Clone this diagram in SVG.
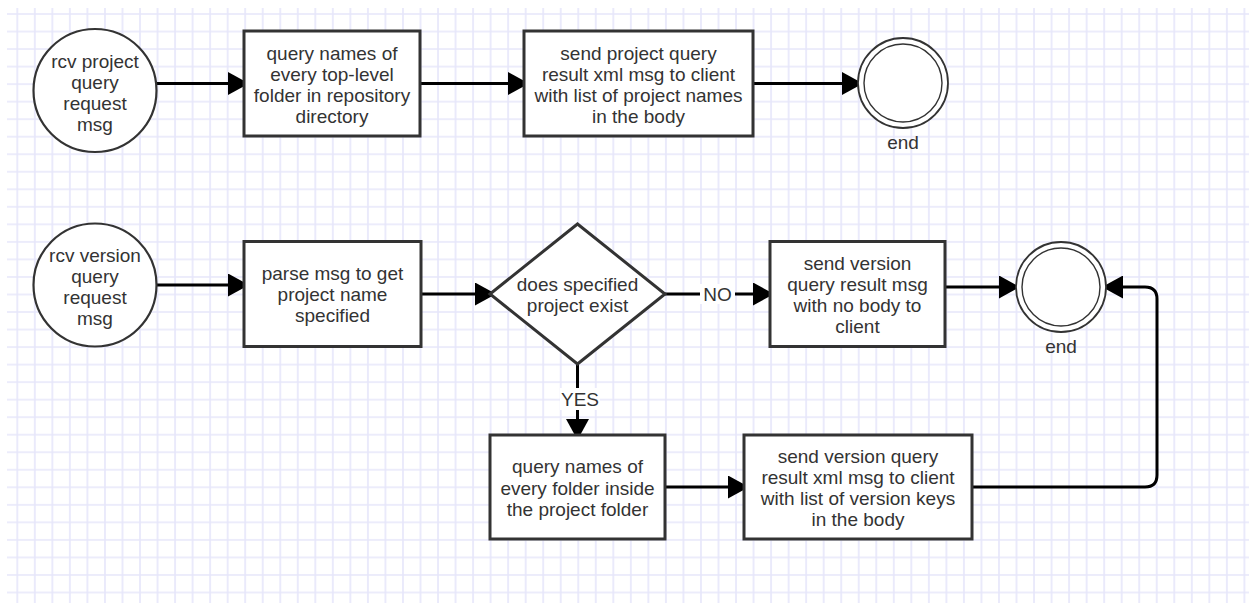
<svg xmlns="http://www.w3.org/2000/svg" width="1249" height="603" viewBox="0 0 1249 603">
  <defs>
    <pattern id="grid" x="8.535" y="5.235" width="17.53" height="17.53" patternUnits="userSpaceOnUse">
      <path d="M8.765,0 V17.53 M0,8.765 H17.53" stroke="#e6e6fa" stroke-width="1.6" fill="none"/>
    </pattern>
    <marker id="arrow" viewBox="0 0 21 23" refX="18" refY="11.5" markerWidth="21" markerHeight="23" markerUnits="userSpaceOnUse" orient="auto">
      <path d="M0,0 L21,11.5 L0,23 Z" fill="#000"/>
    </marker>
    <style>
      .box { fill: #fff; stroke: #333; stroke-width: 3; }
      .start { fill: #fff; stroke: #333; stroke-width: 2.2; }
      .end-outer { fill: #fff; stroke: #333; stroke-width: 1.8; }
      .end-inner { fill: none; stroke: #333; stroke-width: 1.4; }
      .edge { fill: none; stroke: #000; stroke-width: 3; marker-end: url(#arrow); }
      .plain { fill: none; stroke: #000; stroke-width: 3; }
      text { font-family: "Liberation Sans", Arial, sans-serif; font-size: 19px; fill: #333; text-anchor: middle; }
      .lbl-bg { fill: #fff; }
    </style>
  </defs>

  <!-- background and grid -->
  <rect x="0" y="0" width="1249" height="603" fill="#fff"/>
  <rect x="7" y="8" width="1242" height="595" fill="url(#grid)"/>

  <!-- connectors -->
  <g id="connectors">
    <path class="edge" d="M157,83.5 H246"/>
    <path class="edge" d="M420,83.5 H526"/>
    <path class="edge" d="M753,83.5 H860"/>

    <path class="edge" d="M157,285 H246"/>
    <path class="edge" d="M421,294 H493"/>
    <path class="edge" d="M665,294 H771"/>
    <rect class="lbl-bg" x="700" y="284" width="35" height="20"/>
    <text x="717.5" y="300.5">NO</text>
    <path class="edge" d="M945,287 H1017"/>

    <path class="edge" d="M577.5,364 V437"/>
    <rect class="lbl-bg" x="560" y="388" width="40" height="22"/>
    <text x="580" y="406">YES</text>
    <path class="edge" d="M665,487 H746"/>
    <path class="edge" d="M972,487 H1145 Q1157,487 1157,475 V299 Q1157,287 1145,287 H1105"/>
  </g>

  <!-- row 1: project query -->
  <g id="rcv-project">
    <circle class="start" cx="95" cy="90.5" r="61.5"/>
    <text x="95" y="68">rcv project</text>
    <text x="95" y="89">query</text>
    <text x="95" y="110">request</text>
    <text x="95" y="131">msg</text>
  </g>
  <g id="query-top-level">
    <rect class="box" x="244" y="31" width="176" height="105"/>
    <text x="332" y="60">query names of</text>
    <text x="332" y="81">every top-level</text>
    <text x="332" y="102">folder in repository</text>
    <text x="332" y="123">directory</text>
  </g>
  <g id="send-project-result">
    <rect class="box" x="524" y="31" width="229" height="105"/>
    <text x="638.5" y="60">send project query</text>
    <text x="638.5" y="81">result xml msg to client</text>
    <text x="638.5" y="102">with list of project names</text>
    <text x="638.5" y="123">in the body</text>
  </g>
  <g id="end-1">
    <circle class="end-outer" cx="903" cy="83" r="45"/>
    <circle class="end-inner" cx="903" cy="83" r="39"/>
    <text x="903" y="149">end</text>
  </g>

  <!-- row 2: version query -->
  <g id="rcv-version">
    <circle class="start" cx="95" cy="285" r="61.5"/>
    <text x="95" y="262">rcv version</text>
    <text x="95" y="283">query</text>
    <text x="95" y="304">request</text>
    <text x="95" y="325">msg</text>
  </g>
  <g id="parse-msg">
    <rect class="box" x="244" y="241.5" width="177" height="105"/>
    <text x="332.5" y="280">parse msg to get</text>
    <text x="332.5" y="301">project name</text>
    <text x="332.5" y="322">specified</text>
  </g>
  <g id="project-exists">
    <path class="box" d="M577.5,224 L665,294 L577.5,364 L490,294 Z"/>
    <text x="577.5" y="291">does specified</text>
    <text x="577.5" y="312">project exist</text>
  </g>
  <g id="send-version-empty">
    <rect class="box" x="770" y="241.5" width="175" height="105"/>
    <text x="857.5" y="270">send version</text>
    <text x="857.5" y="291">query result msg</text>
    <text x="857.5" y="312">with no body to</text>
    <text x="857.5" y="333">client</text>
  </g>
  <g id="end-2">
    <circle class="end-outer" cx="1061" cy="287" r="45"/>
    <circle class="end-inner" cx="1061" cy="287" r="39"/>
    <text x="1061" y="353">end</text>
  </g>
  <g id="query-project-folders">
    <rect class="box" x="490" y="435" width="175" height="104"/>
    <text x="577.5" y="473">query names of</text>
    <text x="577.5" y="494.5">every folder inside</text>
    <text x="577.5" y="515.5">the project folder</text>
  </g>
  <g id="send-version-result">
    <rect class="box" x="744" y="435" width="228" height="104"/>
    <text x="858" y="463">send version query</text>
    <text x="858" y="484">result xml msg to client</text>
    <text x="858" y="505">with list of version keys</text>
    <text x="858" y="526">in the body</text>
  </g>
</svg>
